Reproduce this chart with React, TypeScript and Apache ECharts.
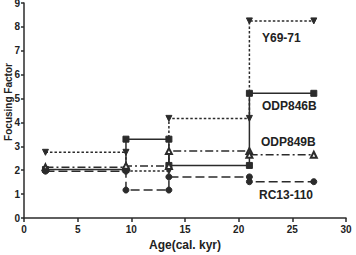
import React, { useEffect, useRef } from "react";
import * as echarts from "echarts";

// Interval boundaries (cal. kyr) shared by all cores
const ageBounds = [2, 9.5, 13.5, 21, 27];

// Focusing factor for each interval, per core
const y6971 = [2.75, 1.97, 4.17, 8.25];
const odp846b = [2.03, 3.3, 2.2, 5.22];
const odp849b = [2.12, 2.18, 2.8, 2.65];
const rc13110 = [1.96, 1.17, 1.72, 1.52];

const xTicks = [0, 30, 5];
const yTicks = [0, 9, 1];

// Turn interval values into a stepped polyline: each interval is a flat run
function steps(vals: number[]): number[][] {
  const pts: number[][] = [];
  vals.forEach((v, i) => {
    pts.push([ageBounds[i], v]);
    pts.push([ageBounds[i + 1], v]);
  });
  return pts;
}

const ink = "#2b2b2b";
const font = "Liberation Sans, Arial, sans-serif";

export default function App() {
  const ref = useRef<HTMLDivElement>(null);

  useEffect(() => {
    if (!ref.current) return;
    const chart = echarts.init(ref.current, undefined, { renderer: "svg" });

    const mk = (name: string, vals: number[], lineType: any, symbol: string, rotate = 0) => ({
      name,
      type: "line",
      data: steps(vals),
      symbol,
      symbolSize: 6,
      symbolRotate: rotate,
      lineStyle: { color: ink, width: 1.5, type: lineType },
      itemStyle: { color: ink, borderColor: ink, borderWidth: 1 },
      z: 3,
    });

    const labelText = (text: string, x: number, y: number) => ({
      type: "text",
      left: x,
      top: y - 7,
      style: { text, fill: "#222", font: `bold 12px ${font}` },
    });

    chart.setOption({
      animation: false,
      backgroundColor: "#fff",
      grid: { left: 24, right: 10, top: 3, bottom: 37, containLabel: false, outerBoundsMode: "none" },
      xAxis: {
        type: "value",
        min: xTicks[0],
        max: xTicks[1],
        interval: xTicks[2],
        name: "Age(cal. kyr)",
        nameLocation: "middle",
        nameGap: 21,
        nameTextStyle: { color: "#222", fontSize: 12, fontWeight: "bold", fontFamily: font },
        axisLine: { lineStyle: { color: ink, width: 1.5 } },
        axisTick: { length: 4, lineStyle: { color: ink, width: 1.5 } },
        axisLabel: { color: "#222", fontSize: 10, fontWeight: "bold", fontFamily: font, margin: 6 },
        splitLine: { show: false },
      },
      yAxis: {
        type: "value",
        min: yTicks[0],
        max: yTicks[1],
        interval: yTicks[2],
        axisLine: { show: true, lineStyle: { color: ink, width: 1.5 } },
        axisTick: { show: true, length: 3, lineStyle: { color: ink, width: 1.5 } },
        axisLabel: { color: "#222", fontSize: 10, fontWeight: "bold", fontFamily: font, margin: 4 },
        splitLine: { show: false },
      },
      graphic: [
        {
          type: "text",
          x: 8,
          y: 102,
          rotation: Math.PI / 2,
          style: {
            text: "Focusing Factor",
            fill: "#222",
            font: `bold 10px ${font}`,
            align: "center",
            verticalAlign: "middle",
          },
        },
        labelText("Y69-71", 262, 39),
        labelText("ODP846B", 262, 107),
        labelText("ODP849B", 261, 143),
        labelText("RC13-110", 259, 196),
      ],
      series: [
        mk("Y69-71", y6971, [2.5, 2], "triangle", 180),
        mk("ODP846B", odp846b, "solid", "rect"),
        mk("ODP849B", odp849b, [8, 3, 2, 3], "emptyTriangle"),
        mk("RC13-110", rc13110, [9, 4], "circle"),
      ],
    });

    return () => chart.dispose();
  }, []);

  return <div ref={ref} style={{ width: 356, height: 255, position: "absolute", left: 0, top: 0 }} />;
}
